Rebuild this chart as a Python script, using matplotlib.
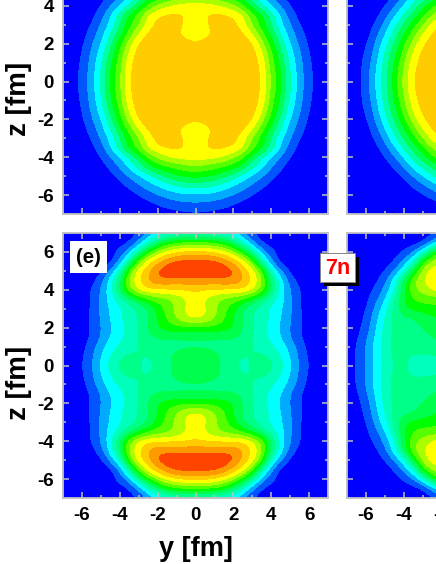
import numpy as np
import matplotlib
matplotlib.use("Agg")
import matplotlib.pyplot as plt
from matplotlib.colors import ListedColormap, BoundaryNorm
from matplotlib.patches import Rectangle

plt.rcParams["font.family"] = ["Liberation Sans", "DejaVu Sans"]
plt.rcParams["font.weight"] = "bold"
plt.rcParams["axes.unicode_minus"] = False

# grid, step 0.5 fm, z rows from 0 to 7
z_half = [0, .5, 1, 1.5, 2, 2.5, 3, 3.5, 4, 4.5, 5, 5.5, 6, 6.5, 7]
y_half = [0, .5, 1, 1.5, 2, 2.5, 3, 3.5, 4, 4.5, 5, 5.5, 6, 6.5, 7]
y_left = [-7, -6.5, -6, -5.5, -5, -4.5, -4, -3.5, -3, -2.5, -2]

# panel top left, y from 0 to 7
top_left = [
    [10, 10, 10, 10, 10, 10, 10, 9.6, 7.3, 5.7, 3.63, 2.05, .82, 0, 0],
    [10, 10, 10, 10, 10, 10, 10, 9.55, 7.25, 5.65, 3.55, 2, .77, 0, 0],
    [10, 10, 10, 10, 10, 10, 10, 9.4, 7.0, 5.35, 3.3, 1.9, .63, 0, 0],
    [10, 10, 10, 10, 10, 10, 10, 8.9, 6.65, 4.95, 2.95, 1.7, .45, 0, 0],
    [9.6, 9.8, 10, 10, 10, 10, 9.85, 8.0, 6.15, 4.3, 2.45, 1.4, .25, 0, 0],
    [9.1, 9.2, 9.6, 10, 10, 9.85, 8.7, 7.0, 5.4, 3.55, 2.1, .98, .05, 0, 0],
    [9.15, 9.3, 9.85, 9.95, 9.8, 9.1, 7.4, 6.1, 4.45, 2.75, 1.65, .5, 0, 0, 0],
    [9.1, 9.45, 9.8, 9.7, 9.55, 8.8, 7.0, 6.0, 4.2, 2.5, 1.1, .1, 0, 0, 0],
    [9.3, 9.1, 8.9, 8.5, 7.7, 6.7, 5.1, 3.7, 2.4, 1.5, .45, 0, 0, 0, 0],
    [7.4, 7.15, 6.9, 6.45, 6.1, 5.2, 4.0, 2.8, 1.65, .75, 0, 0, 0, 0, 0],
    [5.85, 5.75, 5.45, 4.85, 4.1, 3.15, 2.3, 1.65, .85, .1, 0, 0, 0, 0, 0],
    [4, 3.9, 3.6, 3.1, 2.5, 2, 1.45, .75, .12, 0, 0, 0, 0, 0, 0],
    [2.3, 2.3, 2.15, 1.9, 1.55, 1.05, .45, 0, 0, 0, 0, 0, 0, 0, 0],
    [1.3, 1.25, 1.1, .85, .45, .1, 0, 0, 0, 0, 0, 0, 0, 0, 0],
    [.25, .2, .1, 0, 0, 0, 0, 0, 0, 0, 0, 0, 0, 0, 0],
]

# panel top right, y from -7 to -2
top_right = [
    [0, 0, 1.05, 2.55, 4.2, 6, 7.9, 9.65, 10, 10, 10],
    [0, 0, 1.0, 2.5, 4.15, 5.9, 7.8, 9.55, 10, 10, 10],
    [0, 0, .85, 2.25, 3.95, 5.65, 7.5, 9.25, 10, 10, 10],
    [0, 0, .6, 2.0, 3.7, 5.2, 7.05, 8.8, 9.9, 10, 10],
    [0, 0, .3, 1.65, 3.2, 4.7, 6.4, 8.1, 9.55, 10, 10],
    [0, 0, .05, 1.15, 2.55, 4.05, 5.6, 7.15, 8.7, 9.8, 10],
    [0, 0, 0, .6, 1.9, 3.4, 4.7, 6.2, 7.6, 9.0, 9.8],
    [0, 0, 0, .1, 1.2, 2.4, 3.8, 5.0, 6.4, 7.6, 8.75],
    [0, 0, 0, 0, .4, 1.5, 2.7, 4.0, 5.15, 6.4, 7.3],
    [0, 0, 0, 0, 0, .6, 1.6, 2.9, 3.9, 4.75, 5.7],
    [0, 0, 0, 0, 0, .05, .65, 1.6, 2.55, 3.4, 4.2],
    [0, 0, 0, 0, 0, 0, .05, .65, 1.4, 2.1, 2.8],
    [0, 0, 0, 0, 0, 0, 0, 0, .35, .95, 1.45],
    [0, 0, 0, 0, 0, 0, 0, 0, 0, 0, .3],
    [0, 0, 0, 0, 0, 0, 0, 0, 0, 0, 0],
]

# panel (e), y from 0 to 7
panel_e = [
    [6.1, 6.1, 5.8, 5.3, 4.65, 4.2, 4.6, 5.15, 4.75, 3.85, 2.8, 1.4, .4, 0, 0],
    [6.1, 6.1, 5.8, 5.3, 4.85, 4.5, 4.5, 4.75, 4.4, 3.55, 2.5, 1.3, .3, 0, 0],
    [5.3, 5.3, 5.25, 5.15, 5.0, 4.8, 4.5, 4.15, 3.75, 3.0, 2.2, 1.05, .15, 0, 0],
    [5.55, 5.55, 5.5, 5.6, 5.6, 5.3, 4.5, 4.0, 3.2, 2.6, 1.55, .6, 0, 0, 0],
    [7.3, 7.3, 7.25, 7.1, 6.5, 5.6, 4.5, 3.85, 3.1, 2.35, 1.5, .65, 0, 0, 0],
    [9.9, 9.6, 8.7, 7.6, 6.6, 5.3, 4.65, 4.0, 3.45, 2.6, 1.6, .7, 0, 0, 0],
    [10, 9.7, 8.8, 7.9, 6.85, 5.6, 4.55, 3.95, 3.3, 2.65, 1.75, .55, 0, 0, 0],
    [10.1, 9.4, 8.7, 8.2, 7.9, 7.4, 6.5, 5.2, 4.0, 3.0, 1.65, .5, 0, 0, 0],
    [10.6, 10.5, 10.5, 10.5, 10.5, 10.5, 9.9, 8.5, 5.7, 3.1, 1.65, .5, 0, 0, 0],
    [12.3, 12.3, 12.3, 12.35, 12.4, 11.7, 10.3, 8.9, 5.5, 3.0, 1.1, .1, 0, 0, 0],
    [13.4, 13.4, 13.3, 13.2, 12.8, 11.3, 10.2, 8.3, 3.6, 1.9, .1, 0, 0, 0, 0],
    [13.1, 13.0, 12.9, 12.4, 11.3, 10.2, 8.4, 4.4, 1.7, 0, 0, 0, 0, 0, 0],
    [10.9, 10.85, 10.6, 9.9, 9.0, 7.4, 4.8, 2.0, .9, 0, 0, 0, 0, 0, 0],
    [7.9, 7.8, 7.5, 7.0, 5.6, 3.7, 1.7, .4, 0, 0, 0, 0, 0, 0, 0],
    [3.7, 3.6, 3.5, 3.2, 2.6, 1.6, .5, 0, 0, 0, 0, 0, 0, 0, 0],
]

# panel next to (e), y from -7 to -2
bottom_right = [
    [0, .5, 1.55, 2.8, 3.9, 4.7, 4.6, 4.3, 4.25, 4.25, 4.25],
    [0, .5, 1.6, 2.85, 4.0, 4.75, 4.65, 4.35, 4.35, 4.35, 4.4],
    [0, .5, 1.6, 2.9, 4.1, 4.8, 4.8, 4.85, 5.0, 5.2, 5.4],
    [0, .25, 1.35, 2.7, 4.0, 4.85, 4.9, 5.0, 5.2, 5.45, 5.8],
    [0, .1, .95, 2.45, 3.9, 4.8, 4.95, 5.3, 5.6, 6.0, 6.3],
    [0, 0, .7, 2.2, 3.6, 5.0, 5.3, 5.4, 5.8, 6.3, 6.6],
    [0, 0, .4, 1.85, 3.2, 4.9, 6.3, 6.9, 7.1, 7.2, 7.2],
    [0, 0, .15, 1.25, 2.5, 4.6, 6.6, 7.6, 7.8, 7.9, 8.0],
    [0, 0, .1, .7, 1.85, 3.3, 6.7, 8.2, 9.15, 9.7, 10.3],
    [0, 0, 0, .2, 1.3, 3.1, 5.9, 8.6, 9.4, 10.3, 11.3],
    [0, 0, 0, 0, .45, 1.6, 3.2, 6.7, 9.2, 10.0, 10.4],
    [0, 0, 0, 0, 0, .55, 1.8, 3.4, 7.7, 9.0, 9.5],
    [0, 0, 0, 0, 0, 0, .6, 1.5, 3.4, 6.6, 8.2],
    [0, 0, 0, 0, 0, 0, 0, 0, .3, 1.8, 3.5],
    [0, 0, 0, 0, 0, 0, 0, 0, 0, .2, .9],
]

colors_top = ["#0000ff", "#0055ff", "#00aaff", "#00ffff", "#00ffaa", "#00ff55", "#00ff00",
              "#55ff00", "#aaff00", "#ffff00", "#ffcc00"]
colors_bottom = ["#0000ff", "#0055ff", "#00aaff", "#00ffff", "#00ffbb", "#00ff88", "#00ff4c", "#00ff00",
                 "#55ff00", "#aaff00", "#ffff00", "#ffcc00", "#ff9900", "#ff4400"]

W, H = 436, 564
PANEL = 265
GRAY = "#c0c0c0"


def make_axes(left, top):
    ax = plt.gcf().add_axes([left / W, 1 - (top + PANEL) / H, PANEL / W, PANEL / H])
    ax.set_xticks([-6, -4, -2, 0, 2, 4, 6])
    ax.set_yticks([-6, -4, -2, 0, 2, 4, 6])
    ax.set_xticks(np.arange(-7, 8, 2), minor=True)
    ax.set_yticks(np.arange(-7, 8, 2), minor=True)
    ax.tick_params(which="major", direction="in", length=4.4, width=1.1, color=GRAY,
                   top=True, right=True, labelsize=13.5, pad=6.5)
    ax.tick_params(which="minor", direction="in", length=2.2, width=1.1, color=GRAY,
                   top=True, right=True)
    for s in ax.spines.values():
        s.set_color(GRAY)
        s.set_linewidth(1.3)
    return ax


def draw(ax, y, rows, colors):
    rows = np.array(rows)
    y = np.array(y)
    # only one half was read, the panels mirror in z
    full = np.vstack([rows[:0:-1], rows])
    if y[0] == 0:
        full = np.hstack([full[:, :0:-1], full])
        y = np.concatenate([-y[:0:-1], y])
    bounds = [-10] + [i + .5 for i in range(len(colors) - 1)] + [30]
    ax.imshow(full, origin="lower", aspect="auto",
              extent=[y[0] - .25, y[-1] + .25, -7.25, 7.25],
              cmap=ListedColormap(colors), norm=BoundaryNorm(bounds, len(colors)),
              interpolation="bicubic", interpolation_stage="data")
    ax.set_xlim(-7, 7)
    ax.set_ylim(-7, 7)


fig = plt.figure(figsize=(W / 100, H / 100), dpi=100)

ax_a = make_axes(63, -51)
draw(ax_a, y_half, top_left, colors_top)
ax_a.tick_params(labelbottom=False)

ax_b = make_axes(347, -51)
draw(ax_b, y_left, top_right, colors_top)
ax_b.tick_params(labelbottom=False, labelleft=False)

ax_e = make_axes(63, 233)
draw(ax_e, y_half, panel_e, colors_bottom)
ax_e.text(-6.3, 5.72, "(e)", fontsize=14.7, ha="left", va="center", zorder=5,
          bbox=dict(facecolor="white", edgecolor="none", pad=4.5))

ax_f = make_axes(347, 233)
draw(ax_f, y_left, bottom_right, colors_bottom)
ax_f.tick_params(labelleft=False)

# 7n label with its shadow, over both panels
ov = fig.add_axes([0, 0, 1, 1])
ov.set_xlim(0, W)
ov.set_ylim(H, 0)
ov.axis("off")
ov.set_zorder(5)
ov.add_patch(Rectangle((323.5, 257), 35, 29, facecolor="black", edgecolor="none"))
ov.add_patch(Rectangle((320, 253), 35, 29, facecolor="white", edgecolor="#888888", linewidth=.7))
ov.text(338, 268, "7n", color="red", fontsize=15.5, ha="center", va="center")

fig.text(19 / W, 1 - 99 / H, "z [fm]", rotation=90, fontsize=20, ha="center", va="center")
fig.text(19 / W, 1 - 383 / H, "z [fm]", rotation=90, fontsize=20, ha="center", va="center")
fig.text(196 / W, 1 - 549 / H, "y [fm]", fontsize=19.5, ha="center", va="center")

fig.savefig("out.png", dpi=100)
